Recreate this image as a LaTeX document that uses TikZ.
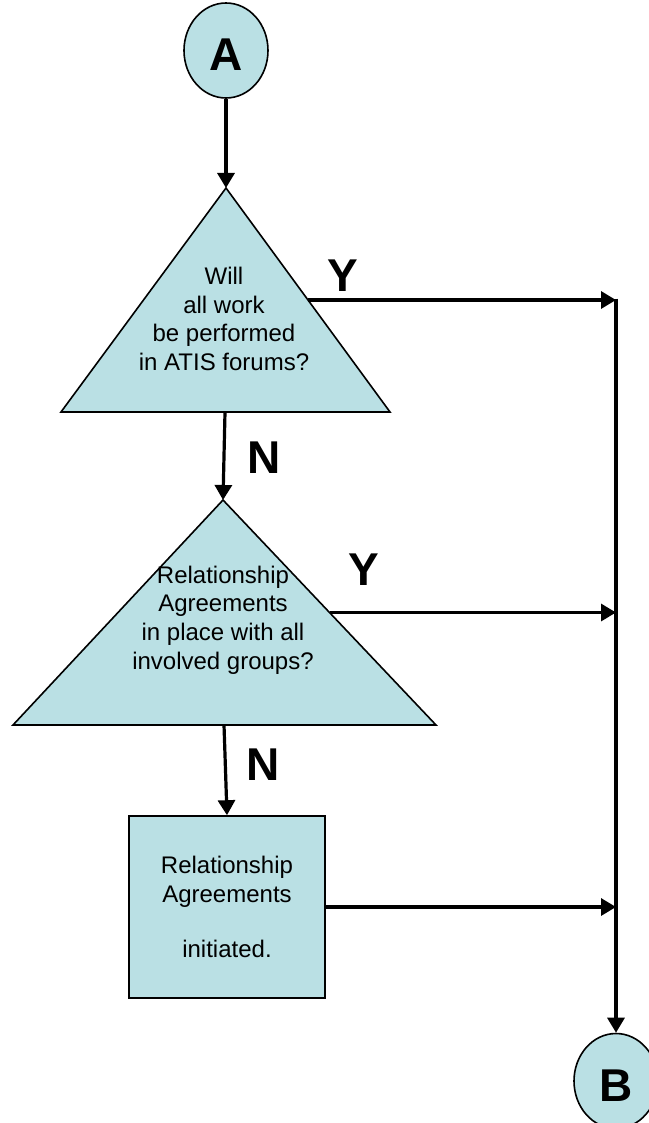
\documentclass[tikz,border=0pt]{standalone}
\usepackage{fontspec}
\setmainfont{Liberation Sans}
\usetikzlibrary{shapes.geometric,arrows.meta,calc}
\definecolor{boxfill}{RGB}{186,224,228}
\begin{document}
\begin{tikzpicture}[x=1pt,y=-1pt,
  shapeline/.style={draw=black, line width=1.6pt, fill=boxfill},
  conn/.style={line width=3.2pt, -{Triangle[length=15pt,width=17pt]}},
  qtext/.style={align=center, font=\fontsize{24}{28.7}\selectfont, inner sep=0pt},
  yn/.style={font=\fontsize{46}{46}\selectfont\bfseries, inner sep=0pt},
  term/.style={ellipse, shapeline, minimum width=84pt, minimum height=95pt, inner sep=0pt,
    font=\fontsize{46}{46}\selectfont\bfseries, text height=41pt, text depth=0pt}
]
\useasboundingbox (0,0) rectangle (648,1123);

% terminals
\node[term] (A) at (226,50.5) {A};
\node[term] (B) at (616,1081) {B};

% decision 1
\coordinate (t1top) at (226,188);
\coordinate (t1l) at (61,412);
\coordinate (t1r) at (390,412);
\coordinate (t1bot) at (225,412);
\path[shapeline] (t1top) -- (t1r) -- (t1l) -- cycle;
\node[qtext] (q1) at (224,319) {Will\\all work\\be performed\\in ATIS forums?};

% decision 2
\coordinate (t2top) at (223,500);
\coordinate (t2l) at (13,725);
\coordinate (t2r) at (436,725);
\coordinate (t2bot) at (224,725);
\path[shapeline] (t2top) -- (t2r) -- (t2l) -- cycle;
\node[qtext] (q2) at (223,620) {Relationship\\Agreements\\in place with all\\involved groups?};

% process
\node[shapeline, rectangle, minimum width=196pt, minimum height=182pt, qtext] (R) at (227,907)
  {Relationship\\Agreements\\[26pt]initiated.};

% labels
\node[yn] (y1) at (343,275.5) {Y};
\node[yn] (y2) at (364,569.5) {Y};
\node[yn] (n1) at (264,458) {N};
\node[yn] (n2) at (263,764.5) {N};

% connectors
\coordinate (vtop) at (616,298.5);
\coordinate (m1) at ($(t1top)!0.5!(t1r)$);
\coordinate (m2) at ($(t2top)!0.5!(t2r)$);
\draw[conn] (A.south) -- (t1top);
\draw[conn] (t1bot) -- (t2top);
\draw[conn] (t2bot) -- (R.north);
\draw[conn] (m1) -- (m1 -| vtop);
\draw[conn] (m2) -- (m2 -| vtop);
\draw[conn] (R.east) -- (R.east -| vtop);
\draw[conn] (vtop) -- (B.north);
\end{tikzpicture}
\end{document}
